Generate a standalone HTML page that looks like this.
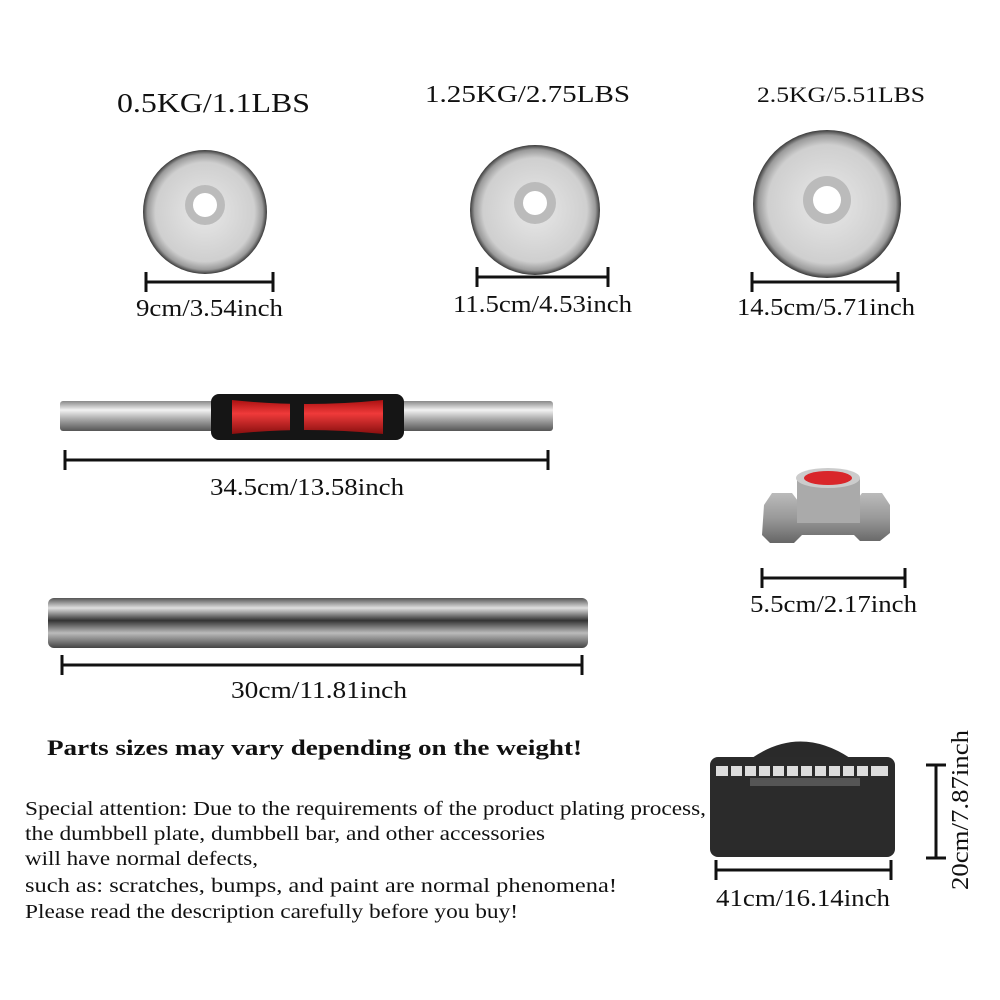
<!DOCTYPE html>
<html><head><meta charset="utf-8"><style>
html,body{margin:0;padding:0;background:#fff}
svg{display:block}
text{font-family:"Liberation Serif",serif;fill:#111}
</style></head><body>
<svg width="1000" height="1000" viewBox="0 0 1000 1000" xmlns="http://www.w3.org/2000/svg">
<defs>
<radialGradient id="pl" cx="0.5" cy="0.5" r="0.5">
<stop offset="0" stop-color="#e8e8e8"/><stop offset="0.8" stop-color="#cfcfcf"/><stop offset="0.93" stop-color="#9a9a9a"/><stop offset="1" stop-color="#3a3a3a"/>
</radialGradient>
<linearGradient id="ch" x1="0" y1="0" x2="0" y2="1">
<stop offset="0" stop-color="#888"/><stop offset="0.3" stop-color="#f2f2f2"/><stop offset="0.6" stop-color="#aaa"/><stop offset="1" stop-color="#555"/>
</linearGradient>
<linearGradient id="bar" x1="0" y1="0" x2="0" y2="1">
<stop offset="0" stop-color="#555"/><stop offset="0.2" stop-color="#e0e0e0"/><stop offset="0.45" stop-color="#333"/><stop offset="0.7" stop-color="#bbb"/><stop offset="1" stop-color="#444"/>
</linearGradient>
<linearGradient id="red" x1="0" y1="0" x2="0" y2="1">
<stop offset="0" stop-color="#a11"/><stop offset="0.4" stop-color="#f03a3a"/><stop offset="1" stop-color="#8a0f0f"/>
</linearGradient>
<linearGradient id="nut" x1="0" y1="0" x2="0" y2="1">
<stop offset="0" stop-color="#bbb"/><stop offset="0.5" stop-color="#999"/><stop offset="1" stop-color="#666"/>
</linearGradient>
</defs>
<!-- titles -->
<text x="117" y="112" font-size="27" textLength="193" lengthAdjust="spacingAndGlyphs">0.5KG/1.1LBS</text>
<text x="425" y="102" font-size="24" textLength="205" lengthAdjust="spacingAndGlyphs">1.25KG/2.75LBS</text>
<text x="757" y="102" font-size="22" textLength="168" lengthAdjust="spacingAndGlyphs">2.5KG/5.51LBS</text>
<!-- plates -->
<circle cx="205" cy="212" r="62" fill="url(#pl)"/><circle cx="205" cy="205" r="20" fill="#bbb"/><circle cx="205" cy="205" r="12" fill="#fff"/>
<circle cx="535" cy="210" r="65" fill="url(#pl)"/><circle cx="535" cy="203" r="21" fill="#bbb"/><circle cx="535" cy="203" r="12" fill="#fff"/>
<circle cx="827" cy="204" r="74" fill="url(#pl)"/><circle cx="827" cy="200" r="24" fill="#bbb"/><circle cx="827" cy="200" r="14" fill="#fff"/>
<!-- dimension lines -->
<g stroke="#111" stroke-width="3" fill="none">
<path d="M146 282H273M146 272v20M273 272v20"/>
<path d="M477 277H608M477 267v20M608 267v20"/>
<path d="M752 282H898M752 272v20M898 272v20"/>
<path d="M65 460H548M65 450v20M548 450v20"/>
<path d="M762 578H905M762 568v20M905 568v20"/>
<path d="M62 665H582M62 655v20M582 655v20"/>
<path d="M716 870H891M716 860v20M891 860v20"/>
<path d="M936 765V858M926 765h20M926 858h20"/>
</g>
<g font-size="24">
<text x="136" y="316" textLength="147" lengthAdjust="spacingAndGlyphs">9cm/3.54inch</text>
<text x="453" y="312" textLength="179" lengthAdjust="spacingAndGlyphs">11.5cm/4.53inch</text>
<text x="737" y="315" textLength="178" lengthAdjust="spacingAndGlyphs">14.5cm/5.71inch</text>
<text x="210" y="495" textLength="194" lengthAdjust="spacingAndGlyphs">34.5cm/13.58inch</text>
<text x="750" y="612" textLength="167" lengthAdjust="spacingAndGlyphs">5.5cm/2.17inch</text>
<text x="231" y="698" textLength="176" lengthAdjust="spacingAndGlyphs">30cm/11.81inch</text>
<text x="716" y="906" textLength="174" lengthAdjust="spacingAndGlyphs">41cm/16.14inch</text>
<text transform="translate(968,890) rotate(-90)" textLength="160" lengthAdjust="spacingAndGlyphs">20cm/7.87inch</text>
</g>
<!-- handle -->
<rect x="60" y="401" width="155" height="30" rx="3" fill="url(#ch)"/>
<rect x="400" y="401" width="153" height="30" rx="3" fill="url(#ch)"/>
<rect x="211" y="394" width="193" height="46" rx="8" fill="#151515"/>
<path d="M232 400 Q306 408 383 400 V434 Q306 426 232 434Z" fill="url(#red)"/>
<rect x="290" y="396" width="14" height="42" fill="#151515"/>
<!-- nut -->
<path d="M764 505 l8 -12 h20 l6 8 h58 l6 -8 h20 l8 12 v28 l-10 8 h-20 l-6 -6 h-52 l-8 8 h-24 l-8 -8 z" fill="url(#nut)"/>
<rect x="797" y="478" width="63" height="45" fill="#aaa"/>
<ellipse cx="828" cy="478" rx="32" ry="10" fill="#ccc"/>
<ellipse cx="828" cy="478" rx="24" ry="7" fill="#d9262a"/>
<!-- long bar -->
<rect x="48" y="598" width="540" height="50" rx="6" fill="url(#bar)"/>
<!-- bold note -->
<text x="47" y="755" font-size="22" font-weight="bold" textLength="535" lengthAdjust="spacingAndGlyphs">Parts sizes may vary depending on the weight!</text>
<g font-size="20">
<text x="25" y="815" textLength="681" lengthAdjust="spacingAndGlyphs">Special attention: Due to the requirements of the product plating process,</text>
<text x="25" y="840" textLength="520" lengthAdjust="spacingAndGlyphs">the dumbbell plate, dumbbell bar, and other accessories</text>
<text x="25" y="865" textLength="233" lengthAdjust="spacingAndGlyphs">will have normal defects,</text>
<text x="25" y="892" textLength="592" lengthAdjust="spacingAndGlyphs">such as: scratches, bumps, and paint are normal phenomena!</text>
<text x="25" y="918" textLength="493" lengthAdjust="spacingAndGlyphs">Please read the description carefully before you buy!</text>
</g>
<!-- case -->
<path d="M752 758 Q800 725 850 758Z" fill="#2a2a2a"/>
<rect x="710" y="757" width="185" height="100" rx="8" fill="#2b2b2b"/>
<rect x="716" y="766" width="172" height="10" fill="#ddd"/>
<g fill="#2b2b2b"><rect x="728" y="766" width="3" height="10"/><rect x="742" y="766" width="3" height="10"/><rect x="756" y="766" width="3" height="10"/><rect x="770" y="766" width="3" height="10"/><rect x="784" y="766" width="3" height="10"/><rect x="798" y="766" width="3" height="10"/><rect x="812" y="766" width="3" height="10"/><rect x="826" y="766" width="3" height="10"/><rect x="840" y="766" width="3" height="10"/><rect x="854" y="766" width="3" height="10"/><rect x="868" y="766" width="3" height="10"/></g>
<rect x="750" y="778" width="110" height="8" fill="#555"/>
</svg>
</body></html>
